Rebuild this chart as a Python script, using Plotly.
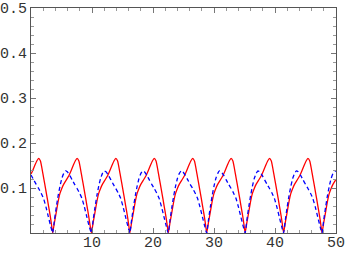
import plotly.graph_objects as go

# Red solid series
red_x = [0.0, 0.25, 0.65, 0.95, 1.25, 1.55, 1.95, 2.25, 2.55, 2.85, 3.15, 3.35,
         3.55, 3.85, 4.15, 4.45, 4.75, 5.05, 5.35, 5.75, 6.15, 6.55, 6.95, 7.25, 7.55, 7.85, 8.25, 8.55, 8.85, 9.15, 9.45, 9.65,
         9.9, 10.2, 10.5, 10.8, 11.1, 11.4, 11.7, 12.1, 12.5, 12.9, 13.3, 13.6, 13.9, 14.2, 14.6, 14.9, 15.2, 15.5, 15.8, 16.0,
         16.2, 16.5, 16.8, 17.1, 17.4, 17.7, 18.0, 18.4, 18.8, 19.2, 19.6, 19.9, 20.2, 20.5, 20.9, 21.2, 21.5, 21.8, 22.1, 22.3,
         22.5, 22.8, 23.1, 23.4, 23.7, 24.0, 24.3, 24.7, 25.1, 25.5, 25.9, 26.2, 26.5, 26.8, 27.2, 27.5, 27.8, 28.1, 28.4, 28.6,
         28.8, 29.1, 29.4, 29.7, 30.0, 30.3, 30.6, 31.0, 31.4, 31.8, 32.2, 32.5, 32.8, 33.1, 33.5, 33.8, 34.1, 34.4, 34.7, 34.9,
         35.1, 35.4, 35.7, 36.0, 36.3, 36.6, 36.9, 37.3, 37.7, 38.1, 38.5, 38.8, 39.1, 39.4, 39.8, 40.1, 40.4, 40.7, 41.0, 41.2,
         41.4, 41.7, 42.0, 42.3, 42.6, 42.9, 43.2, 43.6, 44.0, 44.4, 44.8, 45.1, 45.4, 45.7, 46.1, 46.4, 46.7, 47.0, 47.3, 47.5,
         47.7, 48.0, 48.3, 48.6, 48.9, 49.2, 49.5, 49.9, 50.0]
red_y = [0.131, 0.138, 0.151, 0.160, 0.166, 0.160, 0.132, 0.109, 0.086, 0.062, 0.038, 0.020,
         0.0, 0.024, 0.047, 0.070, 0.088, 0.099, 0.108, 0.117, 0.126, 0.138, 0.151, 0.160, 0.166, 0.160, 0.132, 0.109, 0.086, 0.062, 0.038, 0.020,
         0.0, 0.024, 0.047, 0.070, 0.088, 0.099, 0.108, 0.117, 0.126, 0.138, 0.151, 0.160, 0.166, 0.160, 0.132, 0.109, 0.086, 0.062, 0.038, 0.020,
         0.0, 0.024, 0.047, 0.070, 0.088, 0.099, 0.108, 0.117, 0.126, 0.138, 0.151, 0.160, 0.166, 0.160, 0.132, 0.109, 0.086, 0.062, 0.038, 0.020,
         0.0, 0.024, 0.047, 0.070, 0.088, 0.099, 0.108, 0.117, 0.126, 0.138, 0.151, 0.160, 0.166, 0.160, 0.132, 0.109, 0.086, 0.062, 0.038, 0.020,
         0.0, 0.024, 0.047, 0.070, 0.088, 0.099, 0.108, 0.117, 0.126, 0.138, 0.151, 0.160, 0.166, 0.160, 0.132, 0.109, 0.086, 0.062, 0.038, 0.020,
         0.0, 0.024, 0.047, 0.070, 0.088, 0.099, 0.108, 0.117, 0.126, 0.138, 0.151, 0.160, 0.166, 0.160, 0.132, 0.109, 0.086, 0.062, 0.038, 0.020,
         0.0, 0.024, 0.047, 0.070, 0.088, 0.099, 0.108, 0.117, 0.126, 0.138, 0.151, 0.160, 0.166, 0.160, 0.132, 0.109, 0.086, 0.062, 0.038, 0.020,
         0.0, 0.024, 0.047, 0.070, 0.088, 0.099, 0.108, 0.117, 0.119]

# Blue dashed series
blue_x = [0.0, 0.45, 0.85, 1.25, 1.65, 2.05, 2.45, 2.85, 3.25,
          3.55, 3.85, 4.15, 4.45, 4.75, 5.05, 5.35, 5.65, 5.95, 6.35, 6.75, 7.15, 7.55, 7.95, 8.35, 8.75, 9.15, 9.55,
          9.9, 10.2, 10.5, 10.8, 11.1, 11.4, 11.7, 12.0, 12.3, 12.7, 13.1, 13.5, 13.9, 14.3, 14.7, 15.1, 15.5, 15.9,
          16.2, 16.5, 16.8, 17.1, 17.4, 17.7, 18.0, 18.3, 18.6, 19.0, 19.4, 19.8, 20.2, 20.6, 21.0, 21.4, 21.8, 22.2,
          22.5, 22.8, 23.1, 23.4, 23.7, 24.0, 24.3, 24.6, 24.9, 25.3, 25.7, 26.1, 26.5, 26.9, 27.3, 27.7, 28.1, 28.5,
          28.8, 29.1, 29.4, 29.7, 30.0, 30.3, 30.6, 30.9, 31.2, 31.6, 32.0, 32.4, 32.8, 33.2, 33.6, 34.0, 34.4, 34.8,
          35.1, 35.4, 35.7, 36.0, 36.3, 36.6, 36.9, 37.2, 37.5, 37.9, 38.3, 38.7, 39.1, 39.5, 39.9, 40.3, 40.7, 41.1,
          41.4, 41.7, 42.0, 42.3, 42.6, 42.9, 43.2, 43.5, 43.8, 44.2, 44.6, 45.0, 45.4, 45.8, 46.2, 46.6, 47.0, 47.4,
          47.7, 48.0, 48.3, 48.6, 48.9, 49.2, 49.5, 49.8, 50.0]
blue_y = [0.129, 0.118, 0.108, 0.099, 0.089, 0.077, 0.058, 0.036, 0.014,
          0.0, 0.030, 0.058, 0.083, 0.104, 0.121, 0.132, 0.138, 0.136, 0.128, 0.118, 0.108, 0.099, 0.089, 0.077, 0.058, 0.036, 0.014,
          0.0, 0.030, 0.058, 0.083, 0.104, 0.121, 0.132, 0.138, 0.136, 0.128, 0.118, 0.108, 0.099, 0.089, 0.077, 0.058, 0.036, 0.014,
          0.0, 0.030, 0.058, 0.083, 0.104, 0.121, 0.132, 0.138, 0.136, 0.128, 0.118, 0.108, 0.099, 0.089, 0.077, 0.058, 0.036, 0.014,
          0.0, 0.030, 0.058, 0.083, 0.104, 0.121, 0.132, 0.138, 0.136, 0.128, 0.118, 0.108, 0.099, 0.089, 0.077, 0.058, 0.036, 0.014,
          0.0, 0.030, 0.058, 0.083, 0.104, 0.121, 0.132, 0.138, 0.136, 0.128, 0.118, 0.108, 0.099, 0.089, 0.077, 0.058, 0.036, 0.014,
          0.0, 0.030, 0.058, 0.083, 0.104, 0.121, 0.132, 0.138, 0.136, 0.128, 0.118, 0.108, 0.099, 0.089, 0.077, 0.058, 0.036, 0.014,
          0.0, 0.030, 0.058, 0.083, 0.104, 0.121, 0.132, 0.138, 0.136, 0.128, 0.118, 0.108, 0.099, 0.089, 0.077, 0.058, 0.036, 0.014,
          0.0, 0.030, 0.058, 0.083, 0.104, 0.121, 0.132, 0.138, 0.137]

x_ticks = [10, 20, 30, 40, 50]
x_tick_labels = ["10", "20", "30", "40", "50"]
y_ticks = [0.1, 0.2, 0.3, 0.4, 0.5]
y_tick_labels = ["0.1", "0.2", "0.3", "0.4", "0.5"]

fig = go.Figure()
fig.add_trace(go.Scatter(x=red_x, y=red_y, mode="lines", cliponaxis=False,
                         line=dict(color="#ff0000", width=1.3, shape="spline", smoothing=0.4)))
fig.add_trace(go.Scatter(x=blue_x, y=blue_y, mode="lines", cliponaxis=False,
                         line=dict(color="#0000ff", width=1.3, dash="4px,3px", shape="spline", smoothing=0.4)))

axis_common = dict(
    showline=True, linecolor="#555555", linewidth=1, mirror="ticks",
    ticks="inside", ticklen=5, tickcolor="#777777", tickwidth=1,
    showgrid=False, zeroline=False, automargin=False,
    ticklabeloverflow="allow",
    tickfont=dict(family="Liberation Mono", size=15, color="#333333"),
)

fig.update_xaxes(range=[0, 50], tickvals=x_ticks, ticktext=x_tick_labels,
                 ticklabelstandoff=-5,
                 minor=dict(dtick=2, tick0=0, ticks="inside", ticklen=3,
                            tickcolor="#999999", showgrid=False),
                 **axis_common)
fig.update_yaxes(range=[0, 0.5], tickvals=y_ticks, ticktext=y_tick_labels,
                 minor=dict(dtick=0.02, tick0=0, ticks="inside", ticklen=3,
                            tickcolor="#999999", showgrid=False),
                 **axis_common)

fig.update_layout(
    width=345, height=254,
    margin=dict(l=31, r=9, t=8, b=21),
    paper_bgcolor="white", plot_bgcolor="white",
    showlegend=False,
)

fig.write_html("out.html", config={"displayModeBar": False},
               post_script="document.body.style.margin='0';document.body.style.padding='0';")
